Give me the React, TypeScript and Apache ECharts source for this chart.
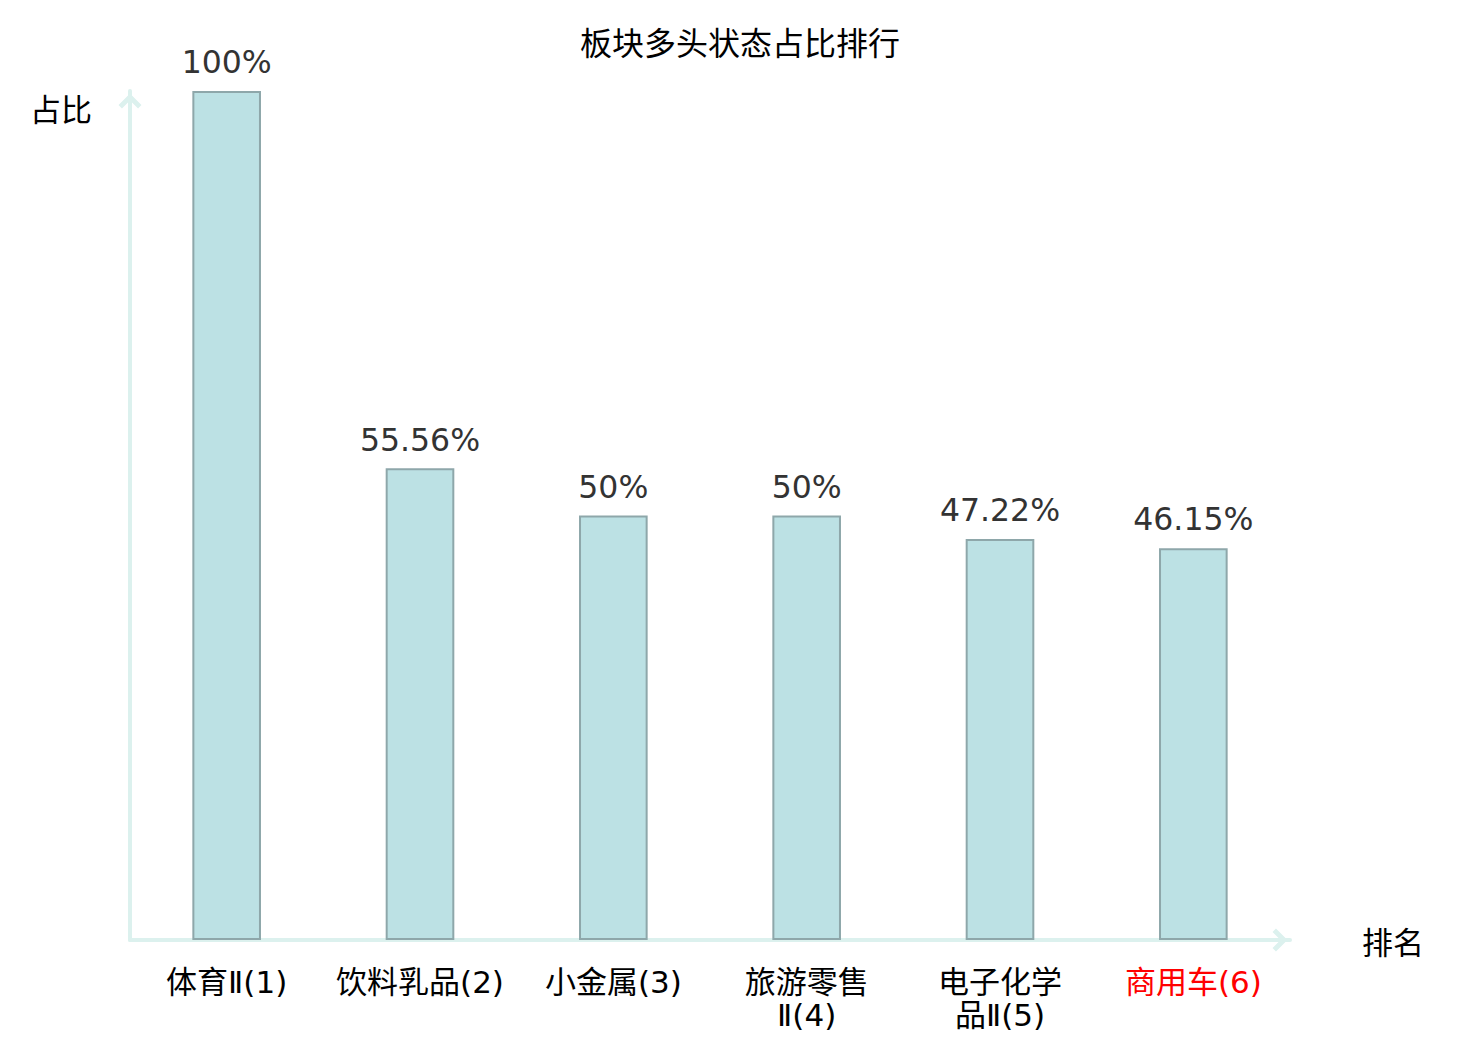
import React, { useEffect, useRef } from "react";
import * as echarts from "echarts";

const categories = ["体育Ⅱ", "饮料乳品", "小金属", "旅游零售Ⅱ", "电子化学品Ⅱ", "商用车"];
const ranks = [1, 2, 3, 4, 5, 6];
const values = [100, 55.56, 50, 50, 47.22, 46.15];
const highlightIndex = 5;

const chevron = "path://M10,0 L20,10 L17,13 L10,6 L3,13 L0,10 Z";

export default function App() {
  const ref = useRef<HTMLDivElement>(null);
  useEffect(() => {
    if (!ref.current) return;
    const chart = echarts.init(ref.current, undefined, { renderer: "svg" });
    const axisColor = "#dcf1ee";
    chart.setOption({
      animation: false,
      backgroundColor: "#ffffff",
      textStyle: { fontFamily: "DejaVu Sans, Noto Sans CJK SC, sans-serif" },
      title: {
        text: "板块多头状态占比排行",
        left: "center",
        top: 23,
        textStyle: { fontSize: 32, fontWeight: "normal", color: "#000" },
      },
      grid: { left: 130, right: 190, top: 91, bottom: 100, containLabel: false },
      xAxis: {
        type: "category",
        data: categories.map((c, i) => {
          const txt = c.length > 4 ? c.slice(0, 4) + "\n" + c.slice(4) : c;
          const item: any = { value: `${txt}(${ranks[i]})` };
          if (i === highlightIndex) item.textStyle = { color: "#ff0000" };
          return item;
        }),
        name: "排名",
        nameLocation: "end",
        nameGap: 72,
        nameTextStyle: { fontSize: 31, color: "#000", fontFamily: "Noto Sans CJK SC" },
        axisLine: {
          show: true,
          symbol: ["none", chevron],
          symbolSize: [23, 20],
          symbolOffset: [0, -10],
          lineStyle: { color: axisColor, width: 4 },
        },
        axisTick: { show: false },
        axisLabel: {
          fontSize: 31,
          color: "#000",
          margin: 25,
          lineHeight: 33,
          interval: 0,
          fontFamily: "DejaVu Sans, Noto Sans CJK SC",
        },
      },
      yAxis: {
        type: "value",
        min: 0,
        max: 100,
        name: "占比",
        nameLocation: "end",
        nameGap: -16,
        nameTextStyle: {
          fontSize: 31,
          color: "#000",
          fontFamily: "Noto Sans CJK SC",
          align: "right",
          verticalAlign: "middle",
          padding: [0, 38, 0, 0],
        },
        axisLine: {
          show: true,
          symbol: ["none", chevron],
          symbolSize: [23, 20],
          symbolOffset: [0, -10],
          lineStyle: { color: axisColor, width: 4 },
        },
        axisTick: { show: false },
        axisLabel: { show: false },
        splitLine: { show: false },
      },
      series: [
        {
          type: "bar",
          data: values,
          barWidth: "35.5%",
          itemStyle: { color: "#bce1e4", borderColor: "#8ea7aa", borderWidth: 2 },
          label: {
            show: true,
            position: "top",
            distance: 13,
            fontSize: 31.5,
            color: "#333",
            formatter: (p: any) => `${p.value}%`,
          },
        },
      ],
    });
    return () => chart.dispose();
  }, []);
  return <div ref={ref} style={{ width: 1480, height: 1040, margin: -8 }} />;
}
